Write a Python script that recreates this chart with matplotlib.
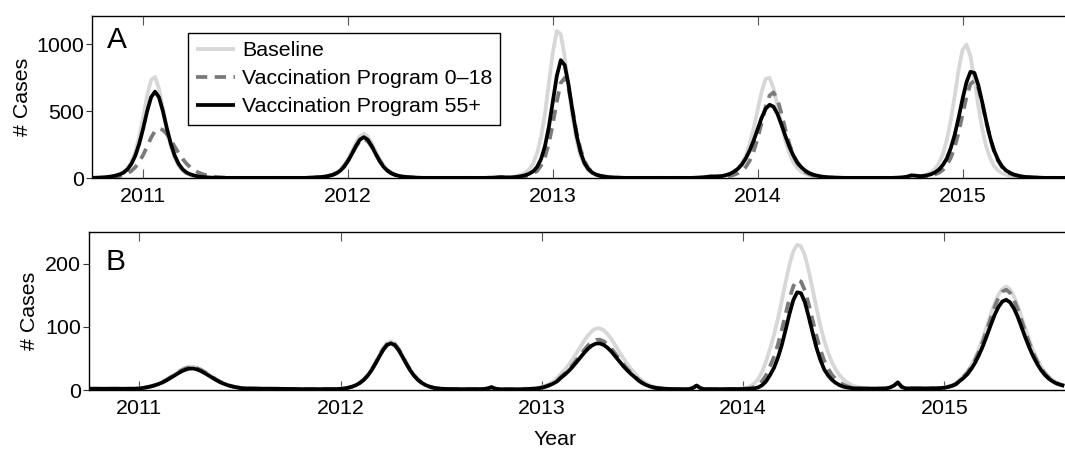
"""
Weekly case curves, baseline vs. two vaccination programs.
Panel A and panel B share one weekly time grid starting at 2010.75.
"""
import numpy as np
import matplotlib
matplotlib.use("Agg")
import matplotlib.pyplot as plt

# --------------------------------------------------------------------------
# data: one value per week, week 0 = 2010.75
# --------------------------------------------------------------------------
weeks = np.arange(253)
years = 2010.75 + weeks / 52.0

year_ticks = [2011, 2012, 2013, 2014, 2015]
labels = ["Baseline", "Vaccination Program 0\u201318", "Vaccination Program 55+"]

# panel A
base_a = [
    1, 2, 3, 4, 7, 11, 18, 28, 43, 72,
    120, 198, 311, 458, 616, 733, 755, 669, 522, 366,
    238, 147, 88, 53, 33, 22, 14, 9, 6, 4,
    3, 2, 1, 1, 1, 1, 1, 1, 1, 1,
    1, 1, 1, 1, 1, 1, 1, 1, 1, 1,
    1, 1, 1, 1, 1, 2, 3, 5, 8, 11,
    17, 25, 40, 62, 96, 143, 201, 262, 311, 330,
    311, 262, 201, 143, 96, 62, 40, 25, 17, 11,
    8, 5, 3, 2, 1, 1, 1, 1, 1, 1,
    1, 1, 1, 1, 1, 1, 1, 1, 1, 1,
    1, 2, 3, 4, 6, 5, 7, 10, 16, 26,
    40, 63, 109, 187, 307, 484, 714, 942, 1098, 1075,
    904, 666, 446, 279, 168, 98, 56, 36, 22, 14,
    9, 6, 4, 3, 2, 1, 1, 1, 1, 1,
    1, 1, 1, 1, 1, 1, 1, 1, 1, 1,
    1, 1, 1, 1, 3, 4, 7, 10, 9, 9,
    13, 19, 29, 43, 68, 110, 170, 259, 375, 513,
    646, 740, 748, 669, 541, 401, 279, 186, 119, 75,
    48, 33, 21, 14, 9, 6, 4, 3, 2, 1,
    1, 1, 1, 1, 1, 1, 1, 1, 1, 1,
    1, 1, 1, 1, 2, 3, 5, 9, 15, 14,
    13, 19, 28, 44, 68, 111, 178, 283, 430, 614,
    810, 958, 997, 910, 734, 537, 365, 234, 148, 90,
    55, 36, 24, 16, 11, 8, 6, 4, 3, 2,
    1, 1, 1, 1, 1, 1, 1, 1, 1, 1,
    1, 1, 1,
]
p018_a = [
    1, 1, 2, 3, 4, 6, 9, 14, 22, 34,
    53, 81, 121, 173, 236, 301, 351, 370, 359, 328,
    282, 234, 186, 143, 107, 79, 57, 41, 30, 21,
    15, 10, 7, 5, 3, 2, 1, 1, 1, 1,
    1, 1, 1, 1, 1, 1, 1, 1, 1, 1,
    1, 1, 1, 1, 1, 2, 3, 5, 7, 11,
    16, 24, 38, 59, 90, 131, 181, 233, 274, 290,
    274, 233, 181, 131, 90, 59, 38, 24, 16, 11,
    7, 5, 3, 2, 1, 1, 1, 1, 1, 1,
    1, 1, 1, 1, 1, 1, 1, 1, 1, 1,
    1, 2, 3, 4, 5, 3, 3, 4, 6, 9,
    13, 20, 33, 53, 93, 158, 262, 407, 572, 710,
    748, 664, 508, 343, 217, 127, 74, 44, 25, 18,
    12, 8, 5, 3, 2, 1, 1, 1, 1, 1,
    1, 1, 1, 1, 1, 1, 1, 1, 1, 1,
    1, 1, 1, 1, 2, 3, 6, 9, 8, 8,
    8, 11, 16, 24, 36, 54, 84, 132, 203, 298,
    413, 532, 616, 639, 588, 484, 365, 259, 172, 112,
    71, 45, 30, 20, 13, 9, 6, 4, 3, 2,
    1, 1, 1, 1, 1, 1, 1, 1, 1, 1,
    1, 1, 1, 1, 1, 2, 4, 8, 14, 13,
    10, 10, 14, 19, 27, 39, 61, 96, 150, 231,
    340, 472, 607, 702, 728, 670, 553, 417, 296, 196,
    128, 81, 51, 33, 24, 17, 12, 8, 5, 4,
    3, 2, 1, 1, 1, 1, 1, 1, 1, 1,
    1, 1, 1,
]
p55_a = [
    1, 2, 3, 5, 8, 12, 18, 27, 40, 65,
    105, 167, 257, 371, 499, 603, 645, 603, 499, 371,
    257, 167, 105, 65, 40, 27, 18, 12, 8, 5,
    3, 2, 1, 1, 1, 1, 1, 1, 1, 1,
    1, 1, 1, 1, 1, 1, 1, 1, 1, 1,
    1, 1, 1, 1, 1, 2, 3, 5, 7, 10,
    15, 22, 34, 54, 84, 127, 181, 239, 286, 305,
    286, 239, 181, 127, 84, 54, 34, 22, 15, 10,
    7, 5, 3, 2, 1, 1, 1, 1, 1, 1,
    1, 1, 1, 1, 1, 1, 1, 1, 1, 1,
    1, 2, 3, 5, 6, 4, 4, 6, 9, 14,
    21, 32, 50, 83, 142, 240, 385, 575, 763, 880,
    843, 692, 497, 322, 195, 112, 66, 40, 25, 16,
    11, 7, 5, 3, 2, 1, 1, 1, 1, 1,
    1, 1, 1, 1, 1, 1, 1, 1, 1, 1,
    1, 1, 1, 2, 3, 5, 8, 12, 12, 13,
    15, 22, 32, 48, 70, 102, 148, 208, 282, 367,
    451, 516, 547, 533, 479, 401, 315, 236, 170, 119,
    82, 56, 38, 26, 18, 12, 8, 5, 4, 3,
    2, 1, 1, 1, 1, 1, 1, 1, 1, 1,
    1, 1, 1, 1, 2, 3, 5, 11, 20, 18,
    14, 15, 20, 28, 42, 63, 97, 146, 223, 323,
    451, 591, 716, 793, 785, 693, 564, 425, 301, 205,
    136, 88, 57, 40, 26, 18, 12, 8, 6, 4,
    3, 2, 1, 1, 1, 1, 1, 1, 1, 1,
    1, 1, 1,
]

# panel B
base_b = [
    2, 2, 2, 2, 2, 2, 2, 2, 2, 2,
    2, 2, 2.2, 2.7, 3.6, 4.7, 6.1, 7.9, 10.3, 13.1,
    16.5, 20.5, 24.7, 28.7, 32.4, 35.3, 37, 37, 35.3, 32.4,
    28.7, 24.7, 20.5, 16.5, 13.1, 10.3, 7.9, 6.1, 4.7, 3.6,
    2.9, 2.6, 2.4, 2.3, 2.2, 2.2, 2.1, 2.1, 2, 2,
    1.9, 1.8, 1.7, 1.6, 1.5, 1.5, 1.4, 1.4, 1.4, 1.4,
    1.4, 1.4, 1.4, 1.5, 1.6, 2, 2.6, 3.7, 5.5, 8,
    11.6, 16.6, 23.5, 32.3, 43, 54.8, 65.8, 74, 77, 74,
    65.8, 54.8, 43, 32.3, 23.5, 16.6, 11.6, 8, 5.5, 3.7,
    2.7, 2.1, 1.8, 1.6, 1.5, 1.5, 1.4, 1.4, 1.4, 1.4,
    1.4, 1.5, 1.7, 2.5, 4.5, 2.2, 1.4, 1.2, 1.2, 1.2,
    1.2, 1.2, 1.5, 1.8, 2.2, 2.8, 3.7, 4.9, 7, 9.9,
    13.6, 18.5, 26, 32.5, 40.3, 49, 58.8, 68.7, 78.4, 87.1,
    93.7, 97.4, 97.7, 94.7, 88.6, 80.5, 70.8, 60.7, 50.8, 41.9,
    34, 27.1, 19.8, 14.3, 10.5, 7.3, 5, 3.8, 3, 2.5,
    2, 1.7, 1.4, 1.4, 1.4, 1.5, 3, 7, 3, 1.5,
    1.5, 1.5, 1.5, 1.5, 1.5, 1.5, 1.5, 1.7, 2.1, 2.8,
    4, 6.5, 11, 18, 30, 46, 66.1, 87.3, 112.7, 141.1,
    170.9, 198.9, 220.1, 230.3, 227.8, 212.8, 188.5, 159.4, 129.4, 101.9,
    78.3, 59, 43.7, 32, 23, 16.5, 11.5, 8, 5.5, 4,
    3.2, 2.8, 2.6, 2.4, 2.3, 2.3, 2.5, 4, 7, 12,
    5, 2.6, 2.5, 2.5, 2.5, 2.5, 2.6, 2.6, 2.7, 2.8,
    3.3, 4.1, 5.6, 7.6, 10.6, 16.8, 22.5, 29.6, 39.4, 51.5,
    66, 82.5, 101, 120, 137, 151, 160, 164, 159.5, 148.5,
    133.5, 115, 96.5, 78.5, 62.5, 49, 37.5, 28.2, 21.2, 16,
    12, 9.4, 7.4,
]
p018_b = [
    2, 2, 2, 2, 2, 2, 2, 2, 2, 2,
    2, 2, 2.1, 2.6, 3.5, 4.6, 5.9, 7.7, 10.1, 12.7,
    16.1, 19.9, 24, 28, 31.6, 34.3, 36, 36, 34.3, 31.6,
    28, 24, 19.9, 16.1, 12.7, 10.1, 7.7, 5.9, 4.6, 3.5,
    2.8, 2.5, 2.3, 2.2, 2.2, 2.1, 2.1, 2, 2, 1.9,
    1.8, 1.7, 1.6, 1.5, 1.5, 1.4, 1.4, 1.4, 1.4, 1.4,
    1.4, 1.4, 1.4, 1.4, 1.5, 1.8, 2.4, 3.6, 5.4, 7.9,
    11.5, 16.4, 23.2, 31.9, 42.5, 54.1, 65, 73, 76, 73,
    65, 54.1, 42.5, 31.9, 23.2, 16.4, 11.5, 7.9, 5.4, 3.6,
    2.6, 2, 1.7, 1.5, 1.4, 1.4, 1.3, 1.3, 1.3, 1.3,
    1.3, 1.4, 1.6, 2.4, 4.5, 2.1, 1.3, 1.1, 1.1, 1.1,
    1.2, 1.2, 1.3, 1.5, 1.8, 2.3, 3, 4, 5.7, 8.1,
    11.1, 15.1, 21.2, 26.6, 32.8, 40, 48, 56, 63.9, 71.1,
    76.4, 79.5, 79.7, 77.2, 72.3, 65.7, 57.7, 49.5, 41.4, 34.2,
    27.8, 22.1, 16.2, 11.7, 8.5, 5.9, 4.1, 3.1, 2.5, 2,
    1.7, 1.5, 1.4, 1.4, 1.4, 1.5, 3, 7, 3, 1.4,
    1.3, 1.3, 1.3, 1.3, 1.3, 1.4, 1.5, 1.7, 1.8, 2.1,
    2.5, 3, 5, 8.5, 14.5, 24, 37.8, 52.7, 71.8, 94.9,
    120.2, 145.4, 164.5, 174.5, 171.9, 157.5, 135.3, 109.9, 85.2, 63.7,
    46.2, 33.5, 24, 17, 12, 8.3, 5.7, 4, 3, 2.6,
    2.4, 2.3, 2.2, 2.2, 2.2, 2.3, 2.5, 4, 7, 12,
    5, 2.6, 2.5, 2.5, 2.5, 2.5, 2.5, 2.5, 2.6, 2.6,
    3, 3.7, 5, 6.8, 9.6, 15.5, 21, 27.7, 37, 48,
    61.5, 77, 95, 113.5, 131.5, 146, 156, 159, 154, 143,
    128, 109.5, 91, 74, 58.5, 45.5, 35, 26.3, 19.8, 15,
    11, 8.6, 6.8,
]
p55_b = [
    2, 2, 2, 2, 2, 2, 2, 2, 2, 2,
    2, 2, 2, 2.5, 3.3, 4.3, 5.6, 7.3, 9.5, 12,
    15.2, 18.8, 22.7, 26.4, 29.8, 32.4, 34, 34, 32.4, 29.8,
    26.4, 22.7, 18.8, 15.2, 12, 9.5, 7.3, 5.6, 4.3, 3.3,
    2.7, 2.4, 2.3, 2.2, 2.1, 2.1, 2, 2, 2, 1.9,
    1.8, 1.7, 1.6, 1.5, 1.4, 1.4, 1.3, 1.3, 1.3, 1.3,
    1.3, 1.3, 1.3, 1.4, 1.5, 1.8, 2.4, 3.6, 5.3, 7.7,
    11.2, 16, 22.6, 31.1, 41.4, 52.7, 63.3, 71.1, 74, 71.1,
    63.3, 52.7, 41.4, 31.1, 22.6, 16, 11.2, 7.7, 5.3, 3.6,
    2.6, 2, 1.7, 1.5, 1.4, 1.4, 1.3, 1.3, 1.3, 1.3,
    1.3, 1.4, 1.6, 2.4, 4.5, 2.1, 1.3, 1.1, 1.1, 1.1,
    1.1, 1.1, 1.2, 1.4, 1.7, 2.1, 2.8, 3.7, 5.3, 7.5,
    10.3, 14, 19.6, 24.6, 30.4, 37, 44.4, 51.9, 59.2, 65.8,
    70.7, 73.6, 73.8, 71.5, 66.9, 60.8, 53.4, 45.8, 38.3, 31.7,
    25.7, 20.5, 15, 10.8, 7.9, 5.5, 3.8, 2.9, 2.3, 1.9,
    1.6, 1.4, 1.3, 1.3, 1.3, 1.4, 3, 7, 3, 1.4,
    1.3, 1.3, 1.3, 1.3, 1.3, 1.3, 1.4, 1.4, 1.5, 1.6,
    1.7, 2, 2.7, 4.3, 7.9, 14, 23.9, 35.1, 50.9, 71,
    95.2, 120.7, 142.7, 154.9, 153.4, 138.8, 115.4, 90.2, 66.5, 47.3,
    32.4, 23, 16, 11, 7.5, 5.2, 3.8, 3, 2.6, 2.4,
    2.3, 2.2, 2.2, 2.2, 2.2, 2.3, 2.5, 4, 7, 12,
    5, 2.6, 2.5, 2.5, 2.5, 2.5, 2.5, 2.5, 2.5, 2.6,
    3, 3.6, 4.8, 6.5, 9, 14.4, 19.2, 25.2, 33.5, 43.6,
    55.8, 69.9, 85.9, 102.7, 118.8, 131.6, 140.3, 143, 139, 129.3,
    115.8, 99.2, 82.5, 66.9, 53.2, 41.5, 31.7, 23.9, 18, 13.7,
    10.3, 8.2, 6.5,
]

# --------------------------------------------------------------------------
# style
# --------------------------------------------------------------------------
plt.rcParams["font.family"] = ["Liberation Sans", "DejaVu Sans"]
FS = 15.4
LW = 2.7
STYLES = [
    dict(color="#d7d7d7", lw=LW, ls="-"),
    dict(color="#7a7a7a", lw=LW, ls=(0, (3, 2))),
    dict(color="black", lw=LW, ls="-"),
]

W, H = 1065, 450
fig = plt.figure(figsize=(W / 100, H / 100), dpi=100)
ax_a = fig.add_axes([92 / W, 1 - 178 / H, (W - 92) / W, 162 / H])
ax_b = fig.add_axes([89 / W, 1 - 390 / H, (W - 89) / W, 157.7 / H])


def draw(ax, series):
    lines = []
    for y, st, lab in zip(series, STYLES, labels):
        ln, = ax.plot(years, y, label=lab, solid_capstyle="butt",
                      dash_capstyle="butt", **st)
        lines.append(ln)
    return lines


def style_axis(ax, xmax, ymax, yticks):
    ax.set_xlim(2010.75, xmax)
    ax.set_ylim(0, ymax)
    ax.set_xticks(year_ticks)
    ax.set_xticklabels([str(y) for y in year_ticks])
    ax.set_yticks(yticks)
    ax.tick_params(axis="x", direction="in", length=6.5, width=0.8,
                   color="#555555", top=True, pad=6.5, labelsize=FS)
    ax.tick_params(axis="y", direction="out", length=4.3, width=0.8,
                   color="#333333", pad=1.5, labelsize=FS)
    ax.spines["right"].set_visible(False)
    for s in ("left", "top", "bottom"):
        ax.spines[s].set_linewidth(1.0)


lines = draw(ax_a, [base_a, p018_a, p55_a])
draw(ax_b, [base_b, p018_b, p55_b])

style_axis(ax_a, 2015.5, 1210, [0, 500, 1000])
style_axis(ax_b, 2015.6, 250, [0, 100, 200])

ax_a.set_ylabel("# Cases", fontsize=FS)
ax_a.yaxis.set_label_coords(-0.0617, 0.5)
ax_b.set_ylabel("# Cases", fontsize=FS)
ax_b.yaxis.set_label_coords(-0.0509, 0.5)
ax_b.set_xlabel("Year", fontsize=FS)
ax_b.xaxis.set_label_coords(0.4775, -0.255)

ax_a.text(0.0154, 0.802, "A", transform=ax_a.transAxes, fontsize=21.5,
          va="baseline")
ax_b.text(0.0174, 0.761, "B", transform=ax_b.transAxes, fontsize=21.5,
          va="baseline")

leg = ax_a.legend(handles=lines, loc="upper left",
                  bbox_to_anchor=(0.0984, 0.893), borderaxespad=0,
                  fontsize=FS, frameon=True, fancybox=False,
                  edgecolor="black", framealpha=1, handlelength=1.85,
                  handletextpad=0.3, labelspacing=0.42, borderpad=0.38)
leg.get_frame().set_linewidth(1.0)

fig.savefig("out.png", dpi=100)
